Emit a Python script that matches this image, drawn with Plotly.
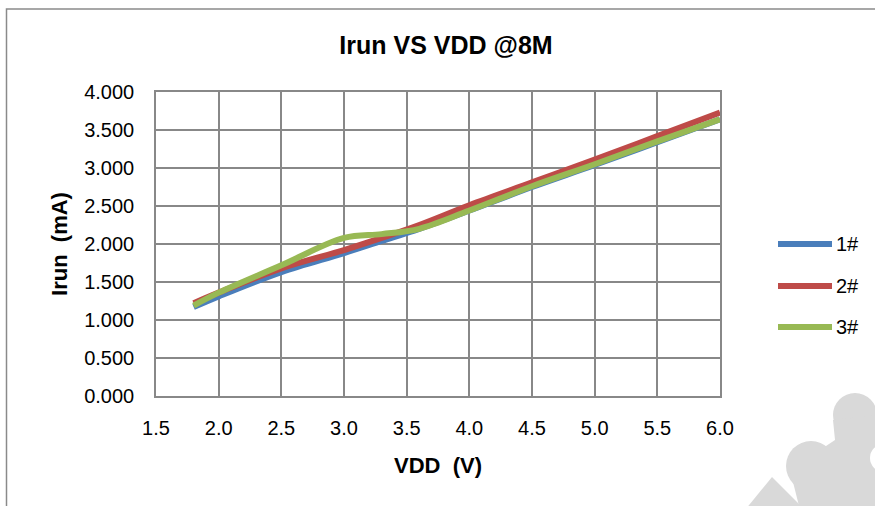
import plotly.graph_objects as go

# ---- data ----
vdd = [1.8, 2.0, 2.5, 3.0, 3.3, 3.6, 4.0, 4.5, 5.0, 5.5, 6.0]
irun_1 = [1.17, 1.31, 1.63, 1.88, 2.04, 2.20, 2.44, 2.75, 3.04, 3.34, 3.64]
irun_2 = [1.22, 1.36, 1.68, 1.92, 2.08, 2.25, 2.51, 2.81, 3.11, 3.42, 3.73]
irun_3 = [1.19, 1.36, 1.72, 2.08, 2.13, 2.20, 2.44, 2.76, 3.05, 3.35, 3.64]
series_names = ["1#", "2#", "3#"]
series_colors = ["#4a7ebb", "#be4b48", "#98b954"]
series_values = [irun_1, irun_2, irun_3]
x_ticks = [1.5, 2.0, 2.5, 3.0, 3.5, 4.0, 4.5, 5.0, 5.5, 6.0]
y_ticks = [0.0, 0.5, 1.0, 1.5, 2.0, 2.5, 3.0, 3.5, 4.0]

W, H = 875, 506
L, R, T, B = 156, 720, 92, 396

def px(x):
    return (x - L) / (R - L)

def py(y):
    return (B - y) / (B - T)

FONT = "Liberation Sans, Arial, sans-serif"
GRID = "#888888"

fig = go.Figure()
for name, color, vals in zip(series_names, series_colors, series_values):
    fig.add_trace(go.Scatter(
        x=vdd, y=vals, name=name, mode="lines",
        line=dict(color=color, width=6, shape="spline", smoothing=1.0),
        showlegend=False, hoverinfo="x+y+name",
    ))

shapes = []
# watermark blob (decoration, bottom-right)
wm = "#d9d9d9"
def circ(cx, cy, r, color):
    return dict(type="circle", xref="paper", yref="paper", layer="below",
                x0=px(cx - r), x1=px(cx + r), y0=py(cy + r), y1=py(cy - r),
                fillcolor=color, line=dict(width=0))
shapes.append(circ(855, 415, 22, wm))
shapes.append(circ(811, 466, 25, wm))
pts = [(833, 420), (877, 415), (877, 510), (800, 510), (790, 470), (835, 440)]
path = "M " + " L ".join(f"{px(a)},{py(b)}" for a, b in pts) + " Z"
shapes.append(dict(type="path", xref="paper", yref="paper", layer="below", path=path,
                   fillcolor=wm, line=dict(width=0)))
band = [(745, 510), (772, 477), (805, 510)]
path2 = "M " + " L ".join(f"{px(a)},{py(b)}" for a, b in band) + " Z"
shapes.append(dict(type="path", xref="paper", yref="paper", layer="below", path=path2,
                   fillcolor=wm, line=dict(width=0)))
shapes.append(circ(884, 458, 14, "white"))

# outer chart border
shapes.append(dict(type="rect", xref="paper", yref="paper",
                   x0=px(6.5), x1=px(890), y0=py(520), y1=py(9),
                   line=dict(color="#8a8a8a", width=1.5), fillcolor="rgba(0,0,0,0)"))

# manual legend
annotations = []
leg_y = [244, 286, 327]
for name, color, yy in zip(series_names, series_colors, leg_y):
    shapes.append(dict(type="line", xref="paper", yref="paper",
                       x0=px(778), x1=px(832), y0=py(yy), y1=py(yy),
                       line=dict(color=color, width=6)))
    annotations.append(dict(xref="paper", yref="paper", x=px(834), y=py(yy),
                            text=name, showarrow=False, xanchor="left", yanchor="middle",
                            font=dict(family=FONT, size=20, color="black")))

fig.update_layout(
    width=W, height=H,
    margin=dict(l=L, r=W - R, t=T, b=H - B, pad=0),
    paper_bgcolor="white", plot_bgcolor="white",
    title=dict(text="<b>Irun VS VDD @8M</b>", x=446 / W, xanchor="center",
               y=1 - 45 / H, yanchor="middle",
               font=dict(family=FONT, size=25, color="black")),
    xaxis=dict(range=[1.5, 6.0], tickvals=x_ticks, ticktext=[f"{v:.1f}" for v in x_ticks],
               showgrid=True, gridcolor=GRID, gridwidth=1.5,
               showline=True, linecolor=GRID, linewidth=1.5, mirror=True,
               ticks="", ticklabelstandoff=13, zeroline=False,
               tickfont=dict(family=FONT, size=20, color="black"),
               title=dict(text="<b>VDD  (V)</b>", standoff=20,
                          font=dict(family=FONT, size=22, color="black"))),
    yaxis=dict(range=[0, 4.0], tickvals=y_ticks, ticktext=[f"{v:.3f}" for v in y_ticks],
               showgrid=True, gridcolor=GRID, gridwidth=1.5,
               showline=True, linecolor=GRID, linewidth=1.5, mirror=True,
               ticks="", ticklabelstandoff=16, zeroline=False,
               tickfont=dict(family=FONT, size=20, color="black"),
               title=dict(text="<b>Irun  (mA)</b>", standoff=10,
                          font=dict(family=FONT, size=22, color="black"))),
    shapes=shapes, annotations=annotations,
)

fig.write_html("out.html")
